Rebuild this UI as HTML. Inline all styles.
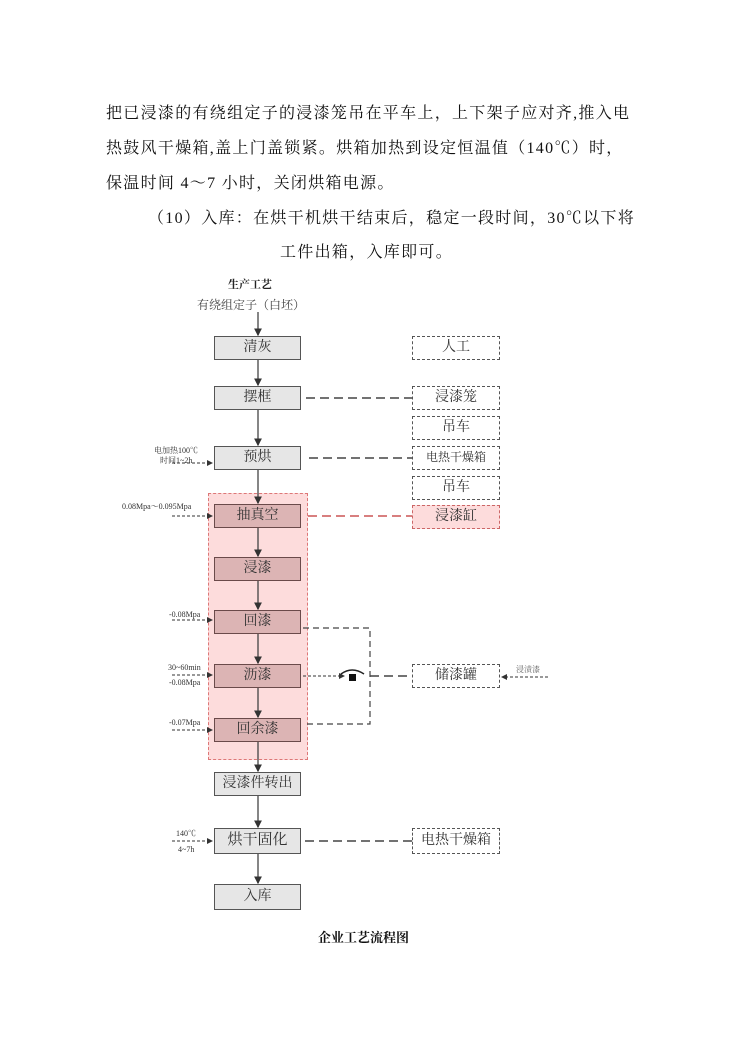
<!DOCTYPE html>
<html><head><meta charset="utf-8"><style>
body{margin:0;background:#fff;width:740px;height:1048px;position:relative;overflow:hidden;font-family:"Liberation Serif","Noto Serif CJK SC",serif;}
.p{position:absolute;font-size:16px;color:#111;white-space:nowrap;letter-spacing:1.3px}
.b{position:absolute;left:214px;width:87px;height:24px;border:1.5px solid #555;background:#e6e6e6;box-sizing:border-box;text-align:center;font-size:14px;line-height:21px;color:#333}
.pk{background:#dcb4b4;border-color:#6a4a4a}
.r{position:absolute;left:412px;width:88px;height:24px;border:1.5px dashed #555;box-sizing:border-box;text-align:center;font-size:14px;line-height:21px;color:#333;background:#fff}
.s{position:absolute;font-size:8px;color:#333;white-space:nowrap}
</style></head><body>
<div class="p" style="left:106px;top:100px">把已浸漆的有绕组定子的浸漆笼吊在平车上，上下架子应对齐,推入电</div>
<div class="p" style="left:106px;top:135px">热鼓风干燥箱,盖上门盖锁紧。烘箱加热到设定恒温值（140℃）时，</div>
<div class="p" style="left:106px;top:170px">保温时间 4～7 小时，关闭烘箱电源。</div>
<div class="p" style="left:148px;top:205px">（10）入库：在烘干机烘干结束后，稳定一段时间，30℃以下将</div>
<div class="p" style="left:280px;top:239px">工件出箱，入库即可。</div>

<div style="position:absolute;left:208px;top:493px;width:100px;height:267px;background:#fddcdc;border:1.5px dashed #d77;box-sizing:border-box"></div>

<svg style="position:absolute;left:0;top:0" width="740" height="1048">
<defs><marker id="a" markerWidth="6" markerHeight="6" refX="5" refY="3" orient="auto"><path d="M0,0L6,3L0,6z" fill="#333"/></marker></defs>
<g stroke="#444" stroke-width="1.3" fill="none">
<line x1="258" y1="312" x2="258" y2="335" marker-end="url(#a)"/>
<line x1="258" y1="360" x2="258" y2="385" marker-end="url(#a)"/>
<line x1="258" y1="410" x2="258" y2="445" marker-end="url(#a)"/>
<line x1="258" y1="470" x2="258" y2="503" marker-end="url(#a)"/>
<line x1="258" y1="528" x2="258" y2="556" marker-end="url(#a)"/>
<line x1="258" y1="581" x2="258" y2="609" marker-end="url(#a)"/>
<line x1="258" y1="634" x2="258" y2="663" marker-end="url(#a)"/>
<line x1="258" y1="688" x2="258" y2="717" marker-end="url(#a)"/>
<line x1="258" y1="742" x2="258" y2="771" marker-end="url(#a)"/>
<line x1="258" y1="796" x2="258" y2="827" marker-end="url(#a)"/>
<line x1="258" y1="854" x2="258" y2="883" marker-end="url(#a)"/>
</g>
<g stroke="#444" stroke-width="1.5" fill="none" stroke-dasharray="9,5">
<line x1="306" y1="398" x2="412" y2="398"/>
<line x1="309" y1="458" x2="412" y2="458"/>
<line x1="305" y1="841" x2="412" y2="841"/>
<polyline points="303,628 370,628 370,724 303,724" stroke-width="1.2" stroke-dasharray="6,4"/>
<line x1="370" y1="676" x2="412" y2="676"/>
</g>
<line x1="308" y1="516" x2="412" y2="516" stroke="#c55" stroke-width="1.5" stroke-dasharray="9,5"/>
<g stroke="#333" stroke-width="1" fill="none" stroke-dasharray="3,2">
<line x1="172" y1="463" x2="212" y2="463" marker-end="url(#a)"/>
<line x1="172" y1="516" x2="212" y2="516" marker-end="url(#a)"/>
<line x1="172" y1="620" x2="212" y2="620" marker-end="url(#a)"/>
<line x1="172" y1="675" x2="212" y2="675" marker-end="url(#a)"/>
<line x1="172" y1="730" x2="212" y2="730" marker-end="url(#a)"/>
<line x1="172" y1="841" x2="212" y2="841" marker-end="url(#a)"/>
<line x1="303" y1="676" x2="344" y2="676" marker-end="url(#a)"/>
<line x1="548" y1="677" x2="502" y2="677" marker-end="url(#a)"/>
</g>
<path d="M341,674 Q352,666 364,674" stroke="#222" stroke-width="1.5" fill="none"/>
<rect x="349" y="674" width="7" height="7" fill="#111"/>
</svg>

<div style="position:absolute;left:228px;top:276px;font-size:11px;font-weight:bold;color:#222">生产工艺</div>
<div style="position:absolute;left:197px;top:296px;font-size:12px;color:#444">有绕组定子（白坯）</div>

<div class="b" style="top:336px">清灰</div>
<div class="b" style="top:386px">摆框</div>
<div class="b" style="top:446px">预烘</div>
<div class="b pk" style="top:504px">抽真空</div>
<div class="b pk" style="top:557px">浸漆</div>
<div class="b pk" style="top:610px">回漆</div>
<div class="b pk" style="top:664px">沥漆</div>
<div class="b pk" style="top:718px">回余漆</div>
<div class="b" style="top:772px">浸漆件转出</div>
<div class="b" style="top:828px;height:26px;font-size:15px;line-height:23px">烘干固化</div>
<div class="b" style="top:884px;height:26px;line-height:23px">入库</div>

<div class="r" style="top:336px">人工</div>
<div class="r" style="top:386px">浸漆笼</div>
<div class="r" style="top:416px">吊车</div>
<div class="r" style="top:446px;font-size:12px">电热干燥箱</div>
<div class="r" style="top:476px">吊车</div>
<div class="r" style="top:505px;background:#fddcdc;border-color:#c66">浸漆缸</div>
<div class="r" style="top:664px">储漆罐</div>
<div class="r" style="top:828px;height:26px;line-height:23px">电热干燥箱</div>

<div class="s" style="left:154px;top:445px">电加热100℃</div>
<div class="s" style="left:160px;top:455px">时间1~2h</div>
<div class="s" style="left:122px;top:501px">0.08Mpa～0.095Mpa</div>
<div class="s" style="left:169px;top:610px">-0.08Mpa</div>
<div class="s" style="left:168px;top:663px">30~60min</div>
<div class="s" style="left:169px;top:678px">-0.08Mpa</div>
<div class="s" style="left:169px;top:718px">-0.07Mpa</div>
<div class="s" style="left:176px;top:828px">140℃</div>
<div class="s" style="left:178px;top:845px">4~7h</div>
<div class="s" style="left:516px;top:664px;color:#666">浸渍漆</div>

<div style="position:absolute;left:318px;top:927px;font-size:13px;font-weight:bold;color:#111">企业工艺流程图</div>
</body></html>
